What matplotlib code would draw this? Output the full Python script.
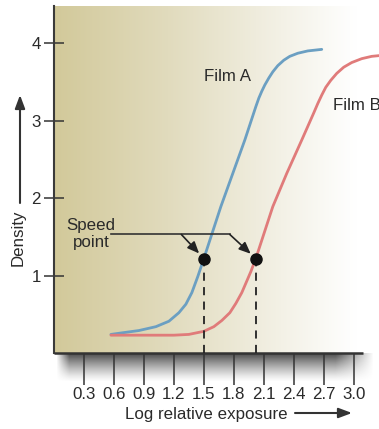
import numpy as np
import matplotlib
matplotlib.use('Agg')
import matplotlib.pyplot as plt
from matplotlib.colors import LinearSegmentedColormap

# ---- data ----
film_a_logE = [0.57, 0.68, 0.85, 1.02, 1.15, 1.25, 1.32, 1.38, 1.44, 1.50, 1.67, 1.79,
               1.91, 2.02, 2.05, 2.08, 2.11, 2.15, 2.19, 2.24, 2.30, 2.36, 2.44, 2.54, 2.68]
film_a_density = [0.24, 0.26, 0.29, 0.34, 0.41, 0.52, 0.63, 0.78, 0.99, 1.22, 1.89, 2.32,
                  2.75, 3.18, 3.29, 3.38, 3.46, 3.55, 3.63, 3.71, 3.78, 3.83, 3.87, 3.90, 3.92]
film_b_logE = [0.57, 0.90, 1.20, 1.35, 1.50, 1.60, 1.68, 1.76, 1.82, 1.88, 1.92, 1.97, 2.02,
               2.19, 2.33, 2.48, 2.60, 2.64, 2.68, 2.72, 2.77, 2.83, 2.90, 2.98, 3.08, 3.18, 3.26]
film_b_density = [0.23, 0.23, 0.23, 0.24, 0.28, 0.34, 0.42, 0.52, 0.64, 0.78, 0.90, 1.05, 1.22,
                  1.89, 2.32, 2.75, 3.10, 3.22, 3.33, 3.43, 3.52, 3.61, 3.69, 3.75, 3.80, 3.83, 3.84]
speed_logE = [1.50, 2.02]
speed_density = [1.22, 1.22]
x_ticks = [0.3, 0.6, 0.9, 1.2, 1.5, 1.8, 2.1, 2.4, 2.7, 3.0]
x_tick_labels = ['0.3', '0.6', '0.9', '1.2', '1.5', '1.8', '2.1', '2.4', '2.7', '3.0']
y_ticks = [1, 2, 3, 4]
y_tick_labels = ['1', '2', '3', '4']

plt.rcParams['font.family'] = ['Liberation Sans', 'DejaVu Sans']
TXT = '#2a2a2a'
FS = 12.2

W, H = 379, 429
fig = plt.figure(figsize=(W / 100, H / 100), dpi=100)
fig.patch.set_facecolor('white')

# shadow under the bottom axis
sh = fig.add_axes([56 / W, (H - 382) / H, (374 - 56) / W, 29 / H], zorder=0)
sh.axis('off')
hh, ww = 60, 300
yy = np.linspace(0, 1, hh)[:, None]
xx = np.linspace(0, 1, ww)[None, :]
alpha = (1 - yy) ** 1.3 * np.clip(np.minimum(xx / 0.04, (1 - xx) / 0.12), 0, 1)
rgba = np.zeros((hh, ww, 4))
rgba[..., :3] = 0.25
rgba[..., 3] = alpha * 0.95
sh.imshow(rgba, extent=[0, 1, 0, 1], aspect='auto', origin='upper')
sh.set_xlim(0, 1)
sh.set_ylim(0, 1)

# main axes
L, B, T = 54 / W, (H - 353) / H, (H - 6) / H
ax = fig.add_axes([L, B, 1 - L, T - B], zorder=1)
ax.patch.set_visible(False)
cmap = LinearSegmentedColormap.from_list(
    'bg', [(0, '#d2c99a'), (0.35, '#e1dbbd'), (0.7, '#f3f1e6'), (0.93, '#ffffff'), (1, '#ffffff')])
grad = np.linspace(0, 1, 256)[None, :]
ax.imshow(grad, cmap=cmap, extent=[0, 1, 0, 1], transform=ax.transAxes,
          aspect='auto', zorder=0)
ax.set_xlim(0, (W - 55) / 99.6)
ax.set_ylim(0, 4.48)

for s in ['top', 'right', 'bottom']:
    ax.spines[s].set_visible(False)
ax.spines['left'].set_color('#3a3a3a')
ax.spines['left'].set_linewidth(1.5)
ax.plot([0, (363 - 54) / (W - 54)], [0, 0], transform=ax.transAxes, color='#333333',
        lw=1.8, clip_on=False, zorder=4, solid_capstyle='butt')

ax.set_xticks(x_ticks)
ax.set_xticklabels(x_tick_labels)
ax.set_yticks(y_ticks)
ax.set_yticklabels(y_tick_labels)
ax.tick_params(axis='x', direction='out', length=23, width=1.1, color='#333333',
               pad=1.5, labelsize=FS, labelcolor=TXT)
ax.tick_params(axis='y', direction='inout', length=15, width=1.1, color='#333333',
               pad=2, labelsize=FS, labelcolor=TXT)

# curves
ax.plot(film_a_logE, film_a_density, color='#6b9fc2', lw=2.0, zorder=3,
        solid_capstyle='round', solid_joinstyle='round')
ax.plot(film_b_logE, film_b_density, color='#e07b7a', lw=2.0, zorder=3,
        solid_capstyle='round', solid_joinstyle='round')

# speed points
ax.vlines(speed_logE, 0, speed_density, colors='#222222', linestyles=(0, (4.5, 3.5)),
          lw=1.3, zorder=4)
ax.plot(speed_logE, speed_density, 'o', color='#111111', ms=8, zorder=6)

# annotation
ax.text(0.37, 1.54, 'Speed\npoint', ha='center', va='center', fontsize=FS, color=TXT)
ax.plot([0.57, 1.76], [1.53, 1.53], color='#333333', lw=1.2, zorder=4)
for (sx, sy), x0 in zip(zip(speed_logE, speed_density), [1.275, 1.76]):
    ax.annotate('', xy=(sx, sy), xytext=(x0, 1.53),
                arrowprops=dict(arrowstyle='-|>,head_length=0.7,head_width=0.3',
                                color='#222222', lw=1.2, shrinkA=0, shrinkB=5),
                zorder=5)

ax.text(1.74, 3.57, 'Film A', ha='center', va='center', fontsize=FS, color=TXT)
ax.text(2.79, 3.20, 'Film B', ha='left', va='center', fontsize=FS, color=TXT)

# axis labels with arrows
fig.text(18 / W, 1 - 238 / H, 'Density', rotation=90, ha='center', va='center',
         fontsize=FS, color=TXT)
ax.annotate('', xy=(20 / W, 1 - 95 / H), xytext=(20 / W, 1 - 203 / H),
            xycoords='figure fraction', textcoords='figure fraction',
            arrowprops=dict(arrowstyle='-|>,head_length=0.8,head_width=0.3',
                            color='#333333', lw=1.5, shrinkA=0, shrinkB=0))
fig.text(206 / W, 1 - 414 / H, 'Log relative exposure', ha='center', va='center',
         fontsize=FS, color=TXT)
ax.annotate('', xy=(352 / W, 1 - 413 / H), xytext=(295 / W, 1 - 413 / H),
            xycoords='figure fraction', textcoords='figure fraction',
            arrowprops=dict(arrowstyle='-|>,head_length=0.8,head_width=0.3',
                            color='#333333', lw=1.5, shrinkA=0, shrinkB=0))

fig.savefig('out.png', dpi=100)
